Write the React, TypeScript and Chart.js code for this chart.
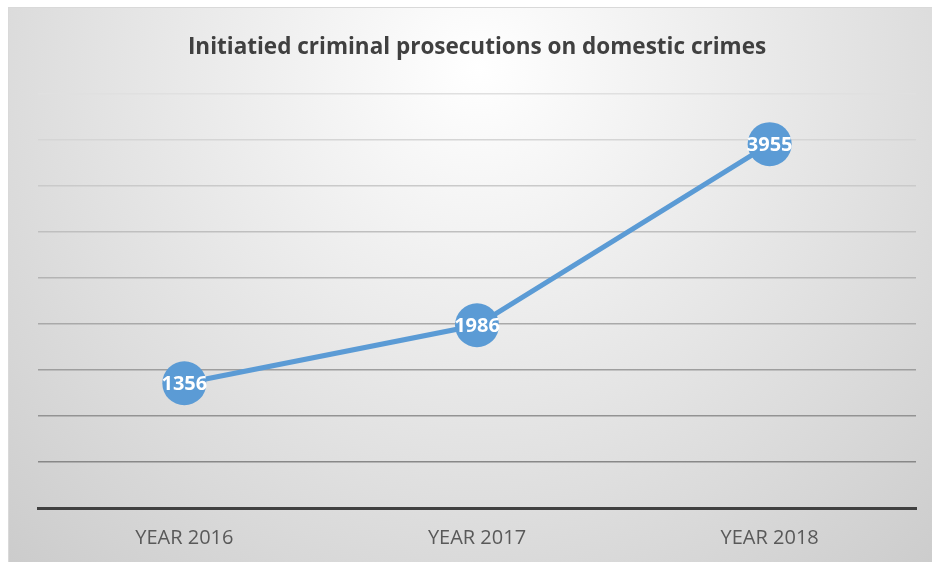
import React, { useEffect, useRef } from "react";
import { Chart, registerables } from "chart.js";

Chart.register(...registerables);

const categories = ["YEAR 2016", "YEAR 2017", "YEAR 2018"];
const values = [1356, 1986, 3955];
const yMin = 0;
const yMax = 4500;
const yStep = 500;
const titleText = "Initiatied criminal prosecutions on domestic crimes";

const bgPlugin = {
  id: "bgPlugin",
  beforeDraw(chart: any) {
    const { ctx, width, height } = chart;
    ctx.save();
    const g = ctx.createRadialGradient(470, 60, 0, 470, 60, 760);
    g.addColorStop(0, "#ffffff");
    g.addColorStop(1, "#c6c6c6");
    ctx.fillStyle = g;
    ctx.fillRect(0, 0, width, height);
    ctx.strokeStyle = "#d9d9d9";
    ctx.lineWidth = 1;
    ctx.strokeRect(0.5, 0.5, width, height);
    ctx.restore();
  },
};

const labelPlugin = {
  id: "labelPlugin",
  afterDatasetsDraw(chart: any) {
    const { ctx } = chart;
    const meta = chart.getDatasetMeta(0);
    ctx.save();
    ctx.fillStyle = "#ffffff";
    ctx.font = "bold 20px 'Open Sans'";
    ctx.textAlign = "center";
    ctx.textBaseline = "middle";
    meta.data.forEach((pt: any, i: number) => {
      ctx.fillText(String(values[i]), pt.x, pt.y + 1);
    });
    ctx.restore();
  },
};

function gridColor(ctx: any) {
  const i = ctx.index ?? 0;
  const lvl = Math.round(0x88 + Math.max(0, i - 1) * ((0xe0 - 0x88) / 8));
  return `rgb(${lvl},${lvl},${lvl})`;
}

export default function App() {
  const ref = useRef<HTMLCanvasElement>(null);
  useEffect(() => {
    if (!ref.current) return;
    const chart = new Chart(ref.current, {
      type: "line",
      data: {
        labels: categories,
        datasets: [
          {
            data: values,
            borderColor: "#5b9bd5",
            backgroundColor: "#5b9bd5",
            borderWidth: 5,
            pointRadius: 22,
            pointHoverRadius: 22,
            pointBorderWidth: 0,
            tension: 0,
            clip: false,
          },
        ],
      },
      options: {
        responsive: false,
        animation: false,
        layout: { autoPadding: false, padding: { left: 30, right: 16, top: 0, bottom: 0 } },
        plugins: {
          legend: { display: false },
          tooltip: { enabled: false },
          title: {
            display: true,
            text: titleText,
            color: "#404040",
            font: { family: "'Open Sans'", size: 22.5, weight: "bold" },
            padding: { top: 27, bottom: 33 },
          },
        },
        scales: {
          x: {
            offset: true,
            grid: { display: false, drawTicks: false },
            border: { display: true, color: "#404040", width: 3 },
            ticks: {
              color: "#595959",
              font: { family: "'Open Sans'", size: 20 },
              padding: 18,
            },
            afterFit(scale: any) {
              scale.height = 54;
              scale.paddingLeft = 0;
              scale.paddingRight = 0;
            },
          },
          y: {
            min: yMin,
            max: yMax,
            ticks: { display: false, stepSize: yStep },
            grid: { color: gridColor, lineWidth: 1.5, drawTicks: false },
            border: { display: false },
            afterFit(scale: any) {
              scale.width = 0;
              scale.paddingTop = 0;
              scale.paddingBottom = 0;
            },
          },
        },
      },
      plugins: [bgPlugin, labelPlugin],
    });
    return () => chart.destroy();
  }, []);
  return (
    <div style={{ position: "fixed", left: 8, top: 7 }}>
      <canvas ref={ref} width={924} height={555} style={{ display: "block" }} />
    </div>
  );
}
